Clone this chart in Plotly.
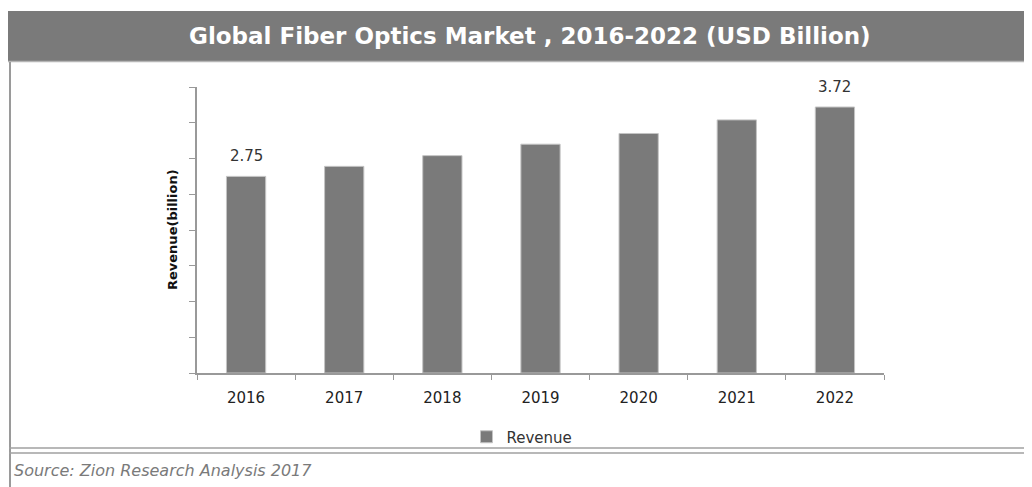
import plotly.graph_objects as go

years = ["2016", "2017", "2018", "2019", "2020", "2021", "2022"]
revenue = [2.75, 2.89, 3.04, 3.20, 3.35, 3.54, 3.72]
labelled = ["2016", "2022"]

# page body has an 8px margin, so the figure sits at (8, 8)
OFF = 8
W, H = 1032 - OFF, 487 - OFF
L, R, T, B = 197, 884, 87, 373  # plot area in page pixels


def px(x):
    return (x - L) / (R - L)


def py(y):
    return (B - y) / (B - T)


fig = go.Figure()
fig.add_trace(go.Bar(
    x=years,
    y=revenue,
    name="Revenue",
    width=0.4,
    marker=dict(color="#7a7a7a", line=dict(color="#c4c4c4", width=1)),
))

# value labels on first and last bars (x as category index)
for i, (yr, val) in enumerate(zip(years, revenue)):
    if yr in labelled:
        fig.add_annotation(
            x=i, y=val, text=f"{val:.2f}", showarrow=False,
            yshift=20, font=dict(family="DejaVu Sans", size=15, color="#333333"),
        )

shapes = [
    # title banner
    dict(type="rect", xref="paper", yref="paper",
         x0=px(8), x1=px(1040), y0=py(61), y1=py(11),
         fillcolor="#7a7a7a", line=dict(width=0), layer="below"),
    dict(type="line", xref="paper", yref="paper",
         x0=px(8), x1=px(1040), y0=py(61.5), y1=py(61.5),
         line=dict(color="#b5b5b5", width=1.5)),
    # left border
    dict(type="line", xref="paper", yref="paper",
         x0=px(10), x1=px(10), y0=py(62), y1=py(495),
         line=dict(color="#9a9a9a", width=2)),
    # bottom double rule
    dict(type="line", xref="paper", yref="paper",
         x0=px(9), x1=px(1040), y0=py(448), y1=py(448),
         line=dict(color="#a0a0a0", width=1.5)),
    dict(type="line", xref="paper", yref="paper",
         x0=px(9), x1=px(1040), y0=py(453), y1=py(453),
         line=dict(color="#a0a0a0", width=1.5)),
]

annotations = [
    dict(text="<b>Global Fiber Optics Market , 2016-2022 (USD Billion)</b>",
         xref="paper", yref="paper", x=px(530), y=py(36),
         showarrow=False, xanchor="center", yanchor="middle",
         font=dict(family="DejaVu Sans", size=23, color="white")),
    dict(text="<b>Revenue(billion)</b>", textangle=-90,
         xref="paper", yref="paper", x=px(172), y=py(230),
         showarrow=False, xanchor="center", yanchor="middle",
         font=dict(family="DejaVu Sans", size=13, color="#111111")),
    dict(text="<i>Source: Zion Research Analysis 2017</i>",
         xref="paper", yref="paper", x=px(12), y=py(470),
         showarrow=False, xanchor="left", yanchor="middle",
         font=dict(family="DejaVu Sans", size=16, color="#7a7a7a")),
]

fig.update_layout(
    width=W, height=H,
    margin=dict(l=L - OFF, r=1032 - R, t=T - OFF, b=487 - B),
    paper_bgcolor="white",
    plot_bgcolor="white",
    shapes=shapes,
    annotations=list(fig.layout.annotations) + annotations,
    showlegend=True,
    legend=dict(orientation="h", x=px(522), y=py(437),
                xanchor="center", yanchor="middle",
                bgcolor="rgba(0,0,0,0)",
                font=dict(family="DejaVu Sans", size=15, color="#333333")),
    xaxis=dict(
        type="category", range=[-0.5, len(years) - 0.5],
        tickson="boundaries", ticks="outside", ticklen=5,
        ticklabelstandoff=10,
        tickcolor="#999999", showline=True, linecolor="#999999", linewidth=1.5,
        showgrid=False, tickfont=dict(family="DejaVu Sans", size=15, color="#222222"),
    ),
    yaxis=dict(
        range=[0, 4], dtick=0.5, ticks="outside", ticklen=6,
        tickcolor="#999999", showline=True, linecolor="#999999", linewidth=1.5,
        showgrid=False, showticklabels=False, zeroline=False,
    ),
)

fig.write_html("out.html")
